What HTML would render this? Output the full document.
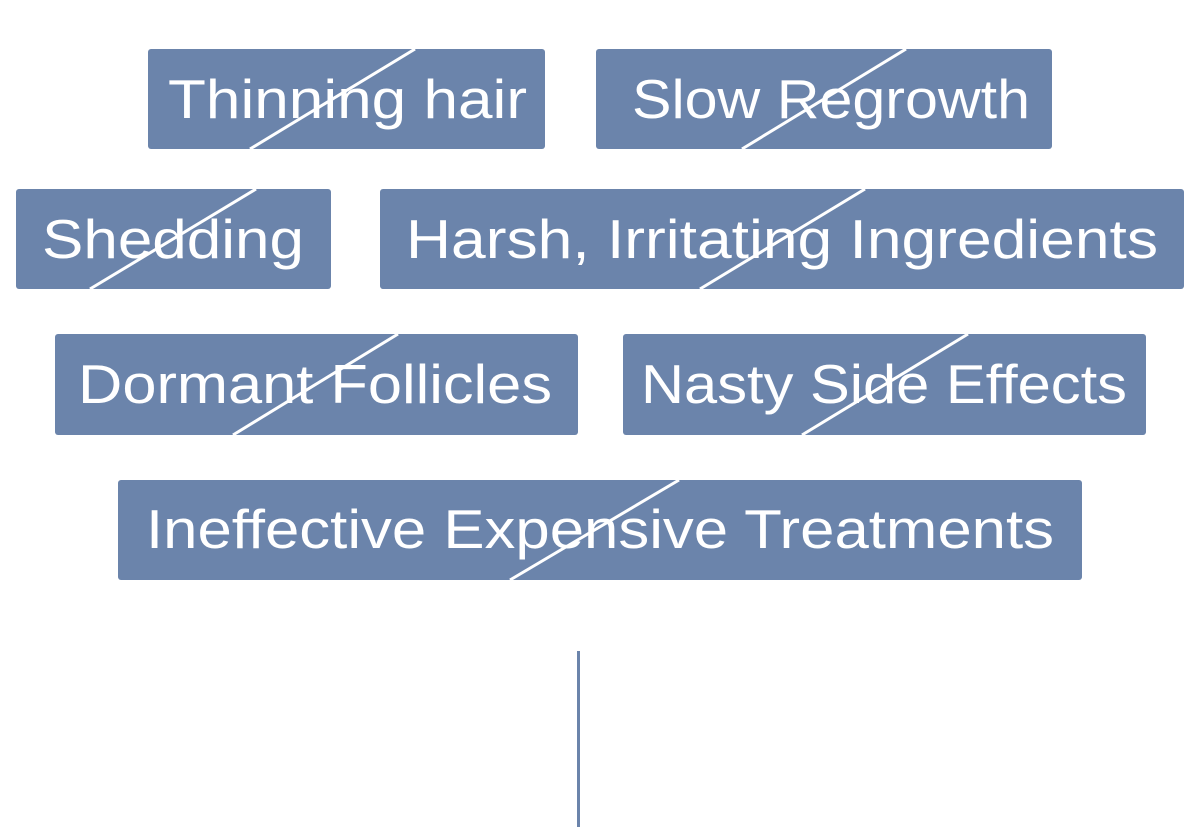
<!DOCTYPE html>
<html><head><meta charset="utf-8"><style>
html,body{margin:0;padding:0;background:#fff;}
svg{display:block;}
text{font-family:"Liberation Sans",sans-serif;font-size:55px;fill:#fff;}
</style></head><body>
<svg width="1200" height="840" viewBox="0 0 1200 840">
<g fill="#6b84ab">
<rect x="148" y="49" width="397" height="100" rx="3"/>
<rect x="596" y="49" width="456" height="100" rx="3"/>
<rect x="16" y="189" width="315" height="100" rx="3"/>
<rect x="380" y="189" width="804" height="100" rx="3"/>
<rect x="55" y="334" width="523" height="101" rx="3"/>
<rect x="623" y="334" width="523" height="101" rx="3"/>
<rect x="118" y="480" width="964" height="100" rx="3"/>
</g>
<text x="168" y="118" textLength="359" lengthAdjust="spacingAndGlyphs">Thinning hair</text>
<text x="632" y="118" textLength="398" lengthAdjust="spacingAndGlyphs">Slow Regrowth</text>
<text x="42" y="258" textLength="262" lengthAdjust="spacingAndGlyphs">Shedding</text>
<text x="406" y="258" textLength="752" lengthAdjust="spacingAndGlyphs">Harsh, Irritating Ingredients</text>
<text x="78" y="403" textLength="474" lengthAdjust="spacingAndGlyphs">Dormant Follicles</text>
<text x="641" y="403" textLength="486" lengthAdjust="spacingAndGlyphs">Nasty Side Effects</text>
<text x="146" y="548" textLength="908" lengthAdjust="spacingAndGlyphs">Ineffective Expensive Treatments</text>
<g stroke="#fff" stroke-width="3">
<line x1="250" y1="149" x2="415" y2="49"/>
<line x1="742" y1="149" x2="906" y2="49"/>
<line x1="90" y1="289" x2="256" y2="189"/>
<line x1="700" y1="289" x2="865" y2="189"/>
<line x1="233" y1="435" x2="398" y2="334"/>
<line x1="802" y1="435" x2="968" y2="334"/>
<line x1="510" y1="580" x2="679" y2="480"/>
</g>
<line x1="578.5" y1="651" x2="578.5" y2="827" stroke="#6b84ab" stroke-width="3"/>
</svg>
</body></html>
